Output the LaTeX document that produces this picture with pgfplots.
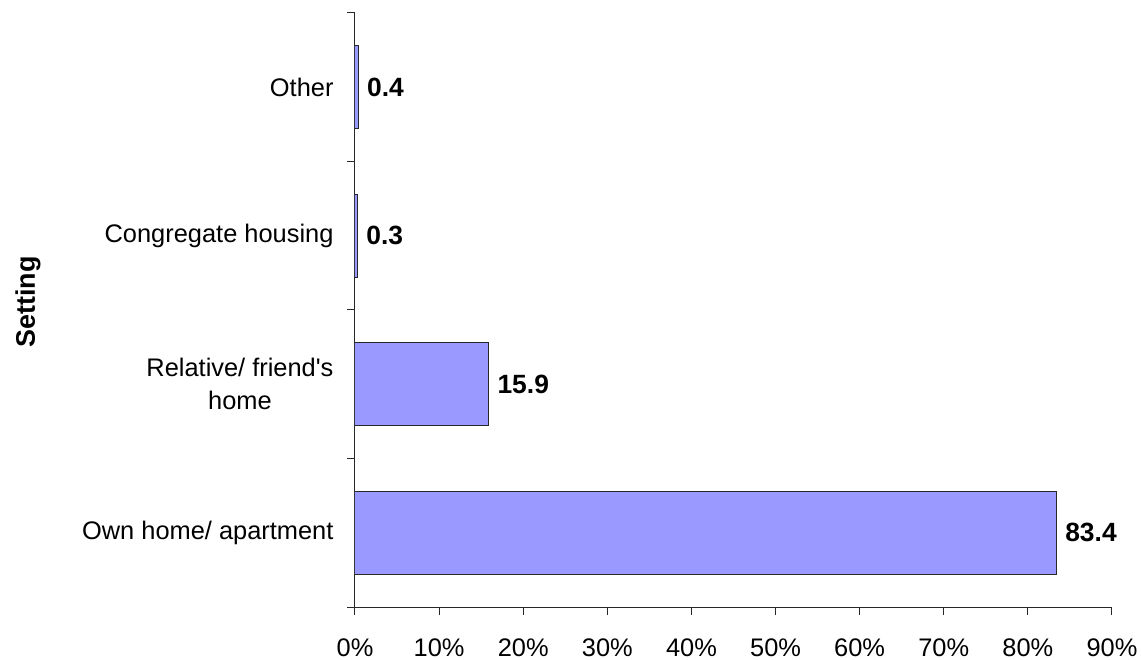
\documentclass[border=0pt]{standalone}
\usepackage{pgfplots}
\pgfplotsset{compat=1.18}
\usepackage{fontspec}
\setmainfont{Liberation Sans}
\definecolor{barblue}{RGB}{153,153,255}
\definecolor{axisgray}{RGB}{40,40,40}
\begin{document}
\begin{tikzpicture}
\useasboundingbox (-355bp,-53bp) rectangle (786bp,607bp);
\begin{axis}[
    at={(0,0)}, anchor=south west,
    scale only axis,
    width=757bp, height=594bp,
    xbar, bar width=83bp,
    xmin=0, xmax=90,
    ymin=-0.5, ymax=3.5,
    axis x line*=bottom, axis y line*=left,
    axis line style={-, axisgray, line width=1bp},
    tick align=outside,
    xtick={0,10,...,90},
    xticklabel={\pgfmathprintnumber{\tick}\%},
    /pgf/number format/assume math mode=true,
    ytick={0,1,2,3},
    yticklabels={Own home/ apartment, {Relative/ friend\textquotesingle s\\home}, Congregate housing, Other},
    y tick label style={align=center, font=\fontsize{25.5}{33}\selectfont, xshift=-10bp},
    x tick label style={font=\fontsize{25.5}{30}\selectfont, yshift=-20bp},
    y tick style={draw=none},
    x tick style={axisgray, line width=1bp},
    major tick length=8bp,
    extra y ticks={-0.5,0.5,1.5,2.5,3.5},
    extra y tick labels={},
    extra y tick style={y tick style={draw=axisgray, line width=1bp}},
    nodes near coords,
    point meta=x,
    nodes near coords style={font=\fontsize{26.5}{30}\selectfont\bfseries, anchor=west, xshift=5bp},
    every node near coord/.append style={/pgf/number format/.cd, fixed, precision=1, fixed zerofill},
]
\addplot[fill=barblue, draw=axisgray, line width=1bp] coordinates {
    (83.4,0) (15.9,1) (0.3,2) (0.4,3)
};
\end{axis}
\node[rotate=90, font=\fontsize{27}{30}\selectfont\bfseries] at (-327bp,305bp) {Setting};
\end{tikzpicture}
\end{document}
